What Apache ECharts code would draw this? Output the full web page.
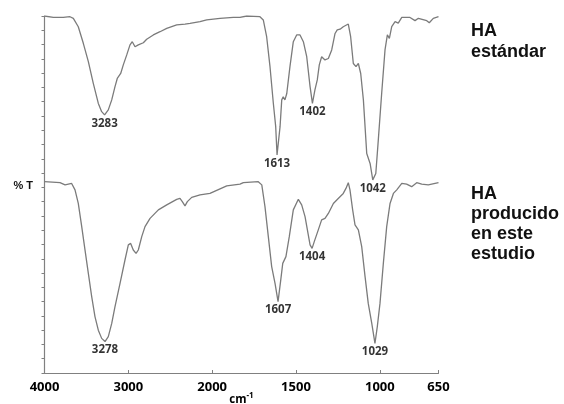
<!DOCTYPE html>
<html>
<head>
<meta charset="utf-8">
<script src="https://cdn.jsdelivr.net/npm/echarts@6/dist/echarts.min.js"></script>
<style>html,body{margin:0;padding:0;background:#fff}#c{width:564px;height:404px}</style>
</head>
<body>
<div id="c"></div>
<script>
// Wavenumbers (cm-1) and transmittance (arbitrary, offset) for HA estándar
const stdWn = [4000,3895,3776,3696,3656,3597,3537,3477,3418,3358,3318,3283,3239,3198,3159,3132,3091,3060,3019,2980,2953,2920,2900,2881,2861,2821,2781,2702,2622,2542,2423,2324,2264,2145,2125,2065,1953,1874,1834,1794,1715,1695,1675,1655,1635,1621,1613,1595,1585,1576,1566,1555,1536,1516,1496,1476,1456,1436,1416,1402,1387,1373,1361,1347,1327,1307,1287,1267,1254,1237,1218,1208,1188,1174,1158,1142,1128,1114,1098,1078,1058,1042,1024,1009,989,969,955,943,929,909,890,869,820,790,770,720,705,681,650];
const stdT  = [100,99.6,99.6,99.8,99.35,97.0,92.35,87.2,81.15,75.5,73.2,72.3,73.7,76.5,80.2,82.5,83.9,86.3,89.1,91.9,92.8,91.4,90.9,91.9,92.35,92.5,93.5,94.7,95.6,96.55,97.5,97.75,97.95,98.4,98.7,98.9,99.35,99.6,99.6,100,99.8,98.9,94.2,85.8,75.5,69.0,61.1,69.0,76.5,77.4,76.5,78.3,85.8,92.8,94.7,94.7,92.8,88.6,80.2,75.5,79.3,82.1,86.3,88.6,87.7,88.1,90.5,95.1,96.1,96.3,97.0,96.55,97.75,94.2,86.7,85.8,86.7,83.9,76.5,61.5,58.7,54.1,55.9,65.3,78.3,90.5,94.7,93.75,97.0,98.4,98.0,99.6,99.6,98.7,99.35,98.7,98.1,99.35,99.8];
// HA producido en este estudio
const prodWn = [4000,3815,3755,3676,3636,3597,3556,3517,3477,3437,3398,3358,3318,3278,3239,3198,3159,3099,3040,3000,2972,2941,2908,2881,2840,2801,2741,2642,2542,2423,2384,2356,2324,2296,2244,2145,2026,1913,1834,1814,1725,1704,1685,1665,1645,1625,1607,1591,1579,1560,1540,1516,1486,1466,1446,1432,1416,1404,1391,1381,1367,1347,1327,1307,1277,1248,1218,1202,1188,1178,1162,1148,1128,1108,1088,1069,1048,1029,1015,999,979,959,939,919,899,869,840,810,780,750,711,650];
const prodT  = [53.6,53.3,52.7,53.1,51.3,47.5,41.0,34.5,27.9,21.4,15.8,12.0,9.7,8.8,10.2,13.9,18.6,25.1,31.65,35.9,36.3,34.45,33.5,34.45,38.2,41.0,43.3,45.7,47.1,48.65,48.9,48.0,46.8,48.0,49.2,49.9,50.3,52.4,52.9,53.3,53.6,52.7,46.6,38.2,29.8,25.1,20.0,26.0,30.7,32.6,38.2,45.7,48.65,47.1,43.8,40.1,35.9,34.9,36.8,36.3,40.1,42.9,43.3,44.7,47.5,48.9,50.3,51.7,53.3,51.3,45.7,41.5,40.1,35.4,27.0,19.5,13.9,8.3,13.0,19.5,30.7,41.0,47.5,50.3,51.3,53.1,52.9,52.2,53.3,52.9,52.7,53.3];
// Labelled peaks
const stdPeakWn = [3283,1613,1402,1042];
const stdPeakT  = [72.3,61.1,75.5,54.1];
const prodPeakWn = [3278,1607,1404,1029];
const prodPeakT  = [8.8,20.0,34.9,8.3];
// Axis tick labels (wavenumbers)
const xTickWn = [4000,3000,2000,1500,1000,650];
const seriesNames = ['HA estándar','HA producido en este estudio'];

// instrument abscissa: scale doubles below 2000 cm-1
function wnToU(w){ return w >= 2000 ? (4000 - w) / 2 : 1000 + (2000 - w); }
function uToWn(u){ return u <= 1000 ? 4000 - 2 * u : 3000 - u; }

const pair = (wn, t) => wn.map((w, i) => [wnToU(w), t[i]]);
const peakPts = (wn, t) => wn.map((w, i) => ({ value: [wnToU(w), t[i]], name: String(w) }));

const chart = echarts.init(document.getElementById('c'));
const lineColor = '#7b7b7b';
const peakLabel = { show: true, position: 'bottom', distance: 2, formatter: p => p.name,
  fontFamily: 'Open Sans', fontWeight: 'bold', fontSize: 11.5, color: '#000' };

chart.setOption({
  animation: false,
  backgroundColor: '#fff',
  grid: { left: 44.5, right: 125.5, top: 16, bottom: 31, containLabel: false, outerBoundsMode: 'none' },
  xAxis: {
    type: 'value', min: 0, max: wnToU(650),
    axisLine: { show: true, lineStyle: { color: '#808080', width: 1.2 } },
    axisTick: { show: true, inside: true, length: 3, lineStyle: { color: '#808080' }, customValues: xTickWn.map(wnToU) },
    axisLabel: { customValues: xTickWn.map(wnToU), formatter: v => String(Math.round(uToWn(v))),
      fontFamily: 'Open Sans', fontWeight: 'bold', fontSize: 13, color: '#000', margin: 8 },
    splitLine: { show: false },
    name: '{a|cm}{b|-1}', nameLocation: 'middle', nameGap: 19, nameMoveOverlap: false,
    nameTextStyle: { rich: {
      a: { fontFamily: 'Open Sans', fontWeight: 'bold', fontSize: 11.5, color: '#000', verticalAlign: 'bottom' },
      b: { fontFamily: 'Open Sans', fontWeight: 'bold', fontSize: 8, color: '#000', verticalAlign: 'top', padding: [0,0,6,0] }
    } }
  },
  yAxis: {
    type: 'value', min: 0, max: 100, interval: 4,
    axisLine: { show: true, lineStyle: { color: '#808080', width: 1.2 } },
    axisTick: { show: true, inside: false, length: 3, lineStyle: { color: '#808080' } },
    axisLabel: { show: false },
    splitLine: { show: false }
  },
  graphic: [
    { type: 'text', right: 564 - 33, top: 180, style: { text: '% T', font: 'bold 11px "Liberation Sans"', fill: '#111' } },
    { type: 'text', left: 471, top: 21, style: { text: 'HA\nestándar', font: 'bold 18px "Liberation Sans"', lineHeight: 20.5, fill: '#111' } },
    { type: 'text', left: 471, top: 184, style: { text: 'HA\nproducido\nen este\nestudio', font: 'bold 18px "Liberation Sans"', lineHeight: 20, fill: '#111' } }
  ],
  series: [
    { name: seriesNames[0], type: 'line', data: pair(stdWn, stdT), showSymbol: false, symbol: 'none',
      lineStyle: { color: lineColor, width: 1.3 }, z: 3 },
    { name: seriesNames[1], type: 'line', data: pair(prodWn, prodT), showSymbol: false, symbol: 'none',
      lineStyle: { color: lineColor, width: 1.3 }, z: 3 },
    { type: 'scatter', data: peakPts(stdPeakWn, stdPeakT), symbolSize: 1, itemStyle: { color: 'rgba(0,0,0,0)' }, label: peakLabel, silent: true, z: 4 },
    { type: 'scatter', data: peakPts(prodPeakWn, prodPeakT), symbolSize: 1, itemStyle: { color: 'rgba(0,0,0,0)' }, label: peakLabel, silent: true, z: 4 }
  ]
});
</script>
</body>
</html>
